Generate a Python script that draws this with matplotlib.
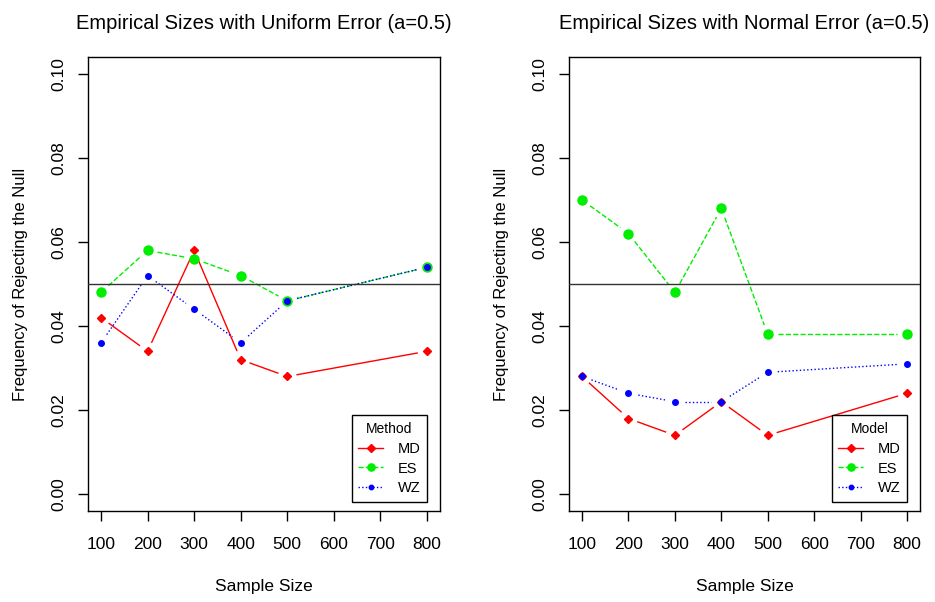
import numpy as np
import matplotlib
matplotlib.use("Agg")
from matplotlib import pyplot as plt

plt.rcParams['font.family'] = ['Liberation Sans', 'DejaVu Sans']

sample_sizes = [100, 200, 300, 400, 500, 800]
x_ticks = [100, 200, 300, 400, 500, 600, 700, 800]
y_ticks = [0.00, 0.02, 0.04, 0.06, 0.08, 0.10]

# rejection frequencies, uniform error
uniform_md = [0.042, 0.034, 0.058, 0.032, 0.028, 0.034]
uniform_es = [0.048, 0.058, 0.056, 0.052, 0.046, 0.054]
uniform_wz = [0.036, 0.052, 0.044, 0.036, 0.046, 0.054]

# rejection frequencies, normal error
normal_md = [0.028, 0.018, 0.014, 0.022, 0.014, 0.024]
normal_es = [0.070, 0.062, 0.048, 0.068, 0.038, 0.038]
normal_wz = [0.028, 0.024, 0.022, 0.022, 0.029, 0.031]

nominal = 0.05

series_style = [
    ('MD', 'red', '-', 'D', 4.5),
    ('ES', '#00ee00', '--', 'o', 6.5),
    ('WZ', 'blue', ':', 'o', 4.0),
]

GAP = 10  # pixels left blank between a point and its connecting segment


# draws one R-like "type b" line: segments stop short of the points
def draw_series(ax, x, y, name, color, ls, marker, ms):
    pts = ax.transData.transform(np.column_stack([x, y]))
    inv = ax.transData.inverted()
    for p0, p1 in zip(pts[:-1], pts[1:]):
        d = p1 - p0
        length = np.hypot(*d)
        if length <= 2 * GAP:
            continue
        u = d / length
        seg = inv.transform(np.array([p0 + u * GAP, p1 - u * GAP]))
        ax.plot(seg[:, 0], seg[:, 1], color=color, ls=ls, lw=1.0, zorder=2)
    ax.plot(x, y, color=color, ls='none', marker=marker, ms=ms,
            mec=color, mfc=color, zorder=3)
    return ax.plot([], [], color=color, ls=ls, lw=1.0, marker=marker,
                   ms=ms * 0.8, mec=color, mfc=color, label=name)[0]


def draw_panel(ax, title, md, es, wz, legend_title):
    ax.set_xlim(72, 828)
    ax.set_ylim(-0.004, 0.104)

    handles = []
    for (name, color, ls, marker, ms), y in zip(series_style, [md, es, wz]):
        handles.append(draw_series(ax, sample_sizes, y, name, color, ls, marker, ms))
    ax.axhline(nominal, color='#333333', lw=1.0, zorder=4)

    ax.set_xticks(x_ticks)
    ax.set_yticks(y_ticks)
    ax.set_yticklabels(['%.2f' % v for v in y_ticks], rotation=90, va='center')
    ax.tick_params(axis='both', direction='out', length=7.5, width=1,
                   labelsize=12.5)
    ax.tick_params(axis='x', pad=11)
    ax.tick_params(axis='y', pad=8)
    for sp in ax.spines.values():
        sp.set_linewidth(1.0)
        sp.set_color('black')
    ax.spines['bottom'].set_visible(False)
    ax.plot([0, 1], [0, 0], transform=ax.transAxes, color='black', lw=1.0,
            clip_on=False, zorder=5)

    ax.set_title(title, fontsize=14.5, pad=20)
    ax.set_xlabel('Sample Size', fontsize=12.5, labelpad=20)
    ax.set_ylabel('Frequency of Rejecting the Null', fontsize=12, labelpad=17)

    leg = ax.legend(handles=handles, title=legend_title, loc='lower right',
                    bbox_to_anchor=(0.963, 0.02), fontsize=10.5, title_fontsize=10,
                    frameon=True, fancybox=False, edgecolor='black',
                    framealpha=1, handlelength=1.7, borderpad=0.45,
                    labelspacing=0.4, handletextpad=1.0, borderaxespad=0)
    leg.get_frame().set_linewidth(1.0)


fig = plt.figure(figsize=(9.35, 6.02), dpi=100)
ax1 = fig.add_axes([0.0941, 0.1512, 0.3765, 0.754])
ax2 = fig.add_axes([0.6086, 0.1512, 0.3754, 0.754])

draw_panel(ax1, 'Empirical Sizes with Uniform Error (a=0.5)',
           uniform_md, uniform_es, uniform_wz, 'Method')
draw_panel(ax2, 'Empirical Sizes with Normal Error (a=0.5)',
           normal_md, normal_es, normal_wz, 'Model')

fig.savefig('out.png', dpi=100)
